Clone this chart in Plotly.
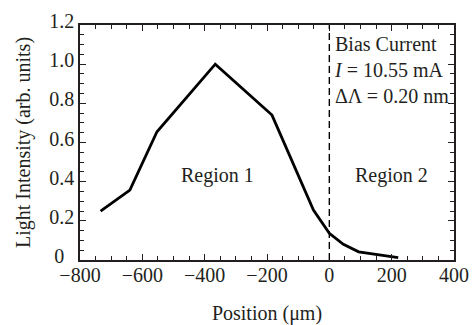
import plotly.graph_objects as go

positions = [-734, -640, -553, -366, -184, -120, -51, 0, 45, 94, 160, 221]
intensity = [0.25, 0.357, 0.655, 1.0, 0.74, 0.51, 0.255, 0.136, 0.08, 0.042, 0.028, 0.012]

y_tickvals = [0, 0.2, 0.4, 0.6, 0.8, 1.0, 1.2]
y_ticktext = ["0&nbsp;&nbsp;", "0.2", "0.4", "0.6", "0.8", "1.0", "1.2"]
x_tickvals = [-800, -600, -400, -200, 0, 200, 400]
x_ticktext = ["\u2212800", "\u2212600", "\u2212400", "\u2212200", "0", "200", "400"]

boundary_x = 0
region_labels = ["Region 1", "Region 2"]
region_x = [-359, 201]
region_y = 0.43

FONT = "Liberation Serif, Times New Roman, serif"
TXT = "#231f20"

fig = go.Figure()
fig.add_trace(go.Scatter(x=positions, y=intensity, mode="lines",
                         line=dict(color="black", width=2.8), showlegend=False))

fig.add_shape(type="line", x0=boundary_x, x1=boundary_x, y0=0, y1=1, yref="paper",
              line=dict(color="black", width=1.4, dash="7px,4px"))

for lab, xv in zip(region_labels, region_x):
    fig.add_annotation(x=xv, y=region_y, text=lab, showarrow=False,
                       font=dict(family=FONT, size=20, color=TXT))

fig.add_annotation(x=7, y=1.17, xanchor="left", yanchor="top",
                   text="Bias Current<br><i>I</i> = 10.55 mA<br>\u0394\u039b = 0.20 nm",
                   showarrow=False, align="left",
                   font=dict(family=FONT, size=20, color=TXT))

axis_common = dict(showgrid=False, zeroline=False, showline=True, linecolor="#231f20",
                   linewidth=1.5, mirror="allticks", ticks="inside", ticklen=6,
                   tickcolor="#231f20", tickwidth=1.2, automargin=False,
                   tickfont=dict(family=FONT, size=20, color=TXT))

fig.update_xaxes(range=[-800, 400], tickvals=x_tickvals, ticktext=x_ticktext,
                 minor=dict(dtick=50, ticks="inside", ticklen=4, tickcolor="#231f20", tickwidth=1),
                 ticklabelstandoff=-4,
                 title=dict(text="Position (\u03bcm)", font=dict(family=FONT, size=20, color=TXT), standoff=22),
                 **axis_common)
fig.update_yaxes(range=[0, 1.2], tickvals=y_tickvals, ticktext=y_ticktext,
                 minor=dict(dtick=0.05, ticks="inside", ticklen=4, tickcolor="#231f20", tickwidth=1),
                 ticklabelshift=-4,
                 title=dict(text="Light Intensity (arb. units)", font=dict(family=FONT, size=20, color=TXT), standoff=13),
                 **axis_common)

fig.update_layout(width=474, height=325, margin=dict(l=80, r=20, t=25, b=65),
                  plot_bgcolor="white", paper_bgcolor="white")

fig.write_html("out.html", config={"displayModeBar": False},
               post_script="document.body.style.margin='0';document.body.style.overflow='hidden';")
